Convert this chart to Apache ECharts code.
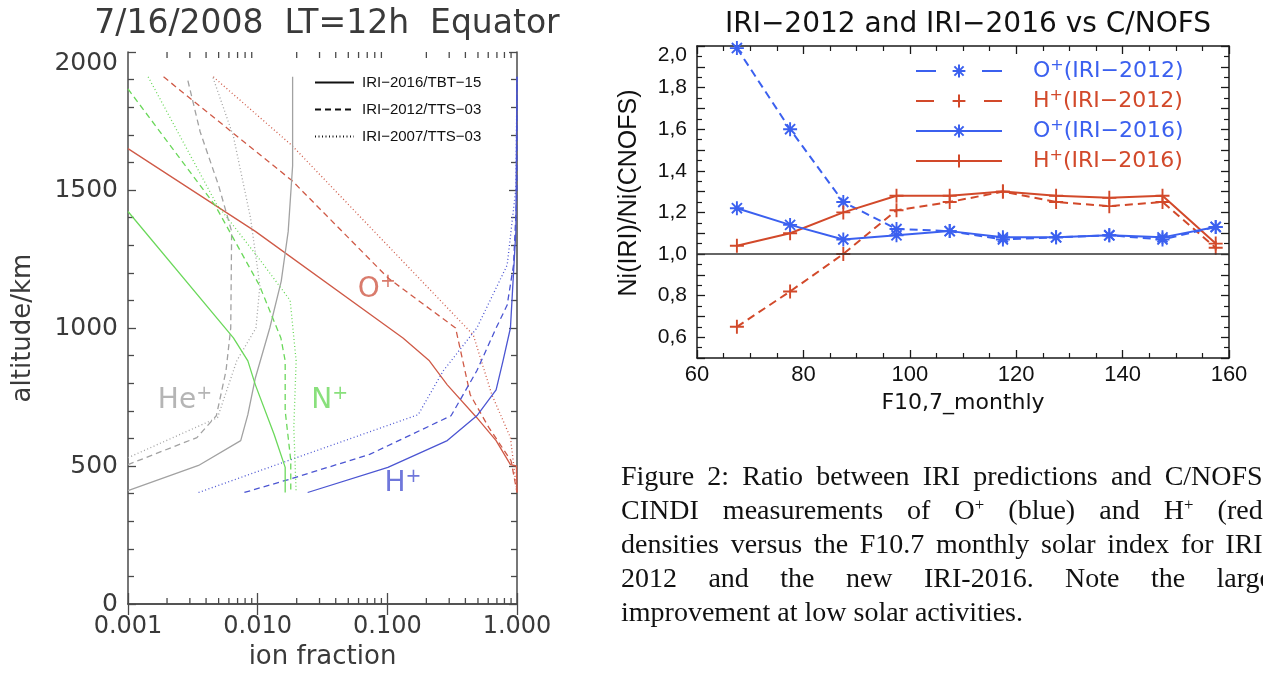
<!DOCTYPE html>
<html>
<head>
<meta charset="utf-8">
<script src="https://cdn.jsdelivr.net/npm/echarts@6/dist/echarts.min.js"></script>
<style>
  html, body { margin: 0; padding: 0; background: #fff; overflow: hidden; }
  #main { position: absolute; left: 0; top: 0; width: 1263px; height: 675px; }
  #caption { position: absolute; left: 621px; top: 459px; width: 651px;
    font-family: "Liberation Serif", "Times New Roman", serif; font-size: 28px; line-height: 34px; color: #111; }
  #caption div { text-align: justify; text-align-last: justify; white-space: normal; }
  #caption div.last { text-align-last: left; }
  #caption sup { font-size: 60%; vertical-align: 0.55em; line-height: 0; }
</style>
</head>
<body>
<div id="main"></div>
<div id="caption">
  <div>Figure 2: Ratio between IRI predictions and C/NOFS-</div>
  <div>CINDI measurements of O<sup>+</sup> (blue) and H<sup>+</sup> (red)</div>
  <div>densities versus the F10.7 monthly solar index for IRI-</div>
  <div>2012 and the new IRI-2016. Note the large</div>
  <div class="last">improvement at low solar activities.</div>
</div>
<script>
// left panel: ion fraction vs altitude (km), 7/16/2008 LT=12h equator
var oPlusTbt15 = [[0.001, 1650], [0.0096, 1350], [0.132, 964], [0.211, 881], [0.29, 794], [0.49, 675], [0.69, 592], [0.89, 505], [0.99, 500], [1.0, 404]];
var oPlusTts12 = [[0.00188, 1910], [0.0184, 1534], [0.102, 1180], [0.336, 1000], [0.436, 758], [0.607, 639], [0.9, 519], [1.0, 404]];
var oPlusTts07 = [[0.00455, 1910], [0.0184, 1661], [0.46, 975], [0.64, 758], [0.89, 603], [1.0, 404]];

var hPlusTbt15 = [[0.0243, 404], [0.101, 495], [0.29, 592], [0.49, 682], [0.69, 776], [0.78, 881], [0.89, 1000], [0.98, 1350], [1.0, 1910]];
var hPlusTts12 = [[0.0079, 404], [0.0173, 451], [0.073, 542], [0.31, 682], [0.49, 845], [0.69, 1000], [0.84, 1083], [0.94, 1228], [1.0, 1500], [1.0, 1910]];
var hPlusTts07 = [[0.0035, 404], [0.0173, 520], [0.173, 686], [0.27, 845], [0.49, 1000], [0.84, 1228], [0.98, 1505], [1.0, 1910]];

var hePlusTbt15 = [[0.001, 411], [0.0035, 502], [0.0074, 592], [0.0084, 686], [0.0096, 819], [0.0124, 1000], [0.0152, 1170], [0.0172, 1350], [0.0186, 1588], [0.0186, 1910]];
var hePlusTts12 = [[0.001, 505], [0.0034, 603], [0.0048, 682], [0.0057, 845], [0.0062, 1000], [0.0063, 1350], [0.005, 1516], [0.0036, 1711], [0.00285, 1910]];
var hePlusTts07 = [[0.001, 530], [0.0049, 675], [0.0069, 881], [0.0097, 1000], [0.0104, 1153], [0.0088, 1400], [0.0065, 1694], [0.0045, 1910]];

var nPlusTbt15 = [[0.001, 1422], [0.0065, 964], [0.0084, 881], [0.0096, 794], [0.0134, 614], [0.0163, 495], [0.0163, 404]];
var nPlusTts12 = [[0.001, 1866], [0.0047, 1444], [0.0103, 1155], [0.0151, 964], [0.0163, 881], [0.0163, 700], [0.018, 520], [0.018, 404]];
var nPlusTts07 = [[0.00143, 1910], [0.0048, 1450], [0.0103, 1250], [0.0178, 1100], [0.0198, 881], [0.019, 639], [0.0198, 404]];

var ionLabels = [['O', 0.083, 1139], ['He', 0.00275, 735], ['N', 0.036, 735], ['H', 0.132, 434]];
var modelNames = ['IRI-2016/TBT-15', 'IRI-2012/TTS-03', 'IRI-2007/TTS-03'];
var fractionMinorTicks = [0.002, 0.003, 0.004, 0.005, 0.006, 0.007, 0.008, 0.009,
  0.02, 0.03, 0.04, 0.05, 0.06, 0.07, 0.08, 0.09, 0.2, 0.3, 0.4, 0.5, 0.6, 0.7, 0.8, 0.9];

// right panel: Ni(IRI)/Ni(CNOFS) vs F10.7 monthly
var f107 = [67.5, 77.5, 87.5, 97.5, 107.5, 117.5, 127.5, 137.5, 147.5, 157.5];
var oPlus2012 = [1.99, 1.60, 1.25, 1.12, 1.11, 1.07, 1.08, 1.09, 1.07, 1.13];
var hPlus2012 = [0.65, 0.82, 1.00, 1.21, 1.25, 1.30, 1.25, 1.23, 1.25, 1.03];
var oPlus2016 = [1.22, 1.14, 1.07, 1.09, 1.11, 1.08, 1.08, 1.09, 1.08, 1.13];
var hPlus2016 = [1.04, 1.10, 1.20, 1.28, 1.28, 1.30, 1.28, 1.27, 1.28, 1.05];

var RED = '#cf5a47', BLUE = '#4b55d2', GREEN = '#6bd85b', GREY = '#a2a2a2';
var RBLUE = '#3b60ef', RRED = '#d2492a';
var LFONT = 'DejaVu Sans', RFONT = 'Liberation Sans';
var dashes = { solid: 'solid', dashed: [6, 4], dotted: [1, 2.5] };

var ASTERISK = 'path://M0,-1L0,1M-1,0L1,0M-0.72,-0.72L0.72,0.72M-0.72,0.72L0.72,-0.72';
var PLUS = 'path://M0,-1L0,1M-1,0L1,0';

function profile(data, color, dash) {
    return {
        type: 'line', xAxisIndex: 0, yAxisIndex: 0, data: data,
        symbol: 'none', silent: true,
        lineStyle: { color: color, width: 1.3, type: dashes[dash] },
        itemStyle: { color: color }
    };
}

function zip(xs, ys) {
    return xs.map(function (x, i) { return [x, ys[i]]; });
}

function ratio(name, ys, color, symbol, dash) {
    return {
        type: 'line', name: name, xAxisIndex: 2, yAxisIndex: 2,
        data: zip(f107, ys), symbol: symbol, symbolSize: 14,
        lineStyle: { color: color, width: 2, type: dash },
        itemStyle: { color: color, borderColor: color, borderWidth: 1.9 }
    };
}

function ionText(p) {
    return '{m|' + p.name + '}{s|+}';
}

function supName(name) {
    var parts = name.split('+');
    return '{sp|}{b|' + parts[0] + '}{s|+}{b|' + parts[1].replace('-', '\u2212') + '}';
}

var chart = echarts.init(document.getElementById('main'));

var leftAxisLine = { lineStyle: { color: '#4a4a4a', width: 1.5 } };
var rightAxisLine = { lineStyle: { color: '#1a1a1a', width: 1.5 } };

var series = [
    profile(oPlusTbt15, RED, 'solid'), profile(oPlusTts12, RED, 'dashed'), profile(oPlusTts07, RED, 'dotted'),
    profile(hPlusTbt15, BLUE, 'solid'), profile(hPlusTts12, BLUE, 'dashed'), profile(hPlusTts07, BLUE, 'dotted'),
    profile(hePlusTbt15, GREY, 'solid'), profile(hePlusTts12, GREY, 'dashed'), profile(hePlusTts07, GREY, 'dotted'),
    profile(nPlusTbt15, GREEN, 'solid'), profile(nPlusTts12, GREEN, 'dashed'), profile(nPlusTts07, GREEN, 'dotted')
];

// legend-only entries for the three model line styles
['solid', 'dashed', 'dotted'].forEach(function (d, i) {
    series.push({
        type: 'line', name: modelNames[i], xAxisIndex: 0, yAxisIndex: 0, data: [],
        symbol: 'none', lineStyle: { color: '#111', width: 1.4, type: dashes[d] },
        itemStyle: { color: '#111' }
    });
});

var labelColors = { O: RED, He: GREY, N: GREEN, H: BLUE };
series.push({
    type: 'scatter', xAxisIndex: 0, yAxisIndex: 0, silent: true,
    symbolSize: 0,
    data: ionLabels.map(function (l) {
        return { name: l[0], value: [l[1], l[2]], label: { color: labelColors[l[0]] } };
    }),
    label: {
        show: true, position: 'inside', formatter: ionText,
        rich: {
            m: { fontFamily: LFONT, fontSize: 28 },
            s: { fontFamily: LFONT, fontSize: 19, padding: [0, 0, 15, 0] }
        }
    }
});

series.push({
    type: 'custom', xAxisIndex: 0, yAxisIndex: 0, silent: true,
    data: fractionMinorTicks.map(function (v) { return [v, 0]; }),
    renderItem: function (params, api) {
        var v = api.value(0);
        var b = api.coord([v, 0]);
        var t = api.coord([v, 2000]);
        var st = { stroke: '#4a4a4a', lineWidth: 1.3 };
        return {
            type: 'group', children: [
                { type: 'line', shape: { x1: b[0], y1: b[1], x2: b[0], y2: b[1] - 6 }, style: st },
                { type: 'line', shape: { x1: t[0], y1: t[1], x2: t[0], y2: t[1] + 6 }, style: st }
            ]
        };
    }
});

var o2012 = ratio('O+(IRI-2012)', oPlus2012, RBLUE, ASTERISK, [8, 5]);
var h2012 = ratio('H+(IRI-2012)', hPlus2012, RRED, PLUS, [8, 5]);
var o2016 = ratio('O+(IRI-2016)', oPlus2016, RBLUE, ASTERISK, 'solid');
var h2016 = ratio('H+(IRI-2016)', hPlus2016, RRED, PLUS, 'solid');
o2016.markLine = {
    silent: true, symbol: 'none', label: { show: false },
    lineStyle: { color: '#333', width: 1.5, type: 'solid' },
    data: [{ yAxis: 1 }]
};
series.push(h2012, o2012, h2016, o2016);

var option = {
    animation: false,
    backgroundColor: '#fff',
    title: [
        {
            text: '7/16/2008  LT=12h  Equator', left: 322, top: 3, textAlign: 'center',
            textStyle: { fontFamily: LFONT, fontSize: 33, fontWeight: 'normal', color: '#3a3a3a' }
        },
        {
            text: 'IRI\u22122012 and IRI\u22122016 vs C/NOFS', left: 963, top: 6, textAlign: 'center',
            textStyle: { fontFamily: LFONT, fontSize: 28, fontWeight: 'normal', color: '#111' }
        }
    ],
    legend: [
        {
            data: modelNames, orient: 'vertical', left: 309, top: 70,
            itemWidth: 39, itemHeight: 12, itemGap: 12,
            itemStyle: { opacity: 0 },
            formatter: function (n) { return '{sp|}{t|' + n.replace(/-/g, '\u2212') + '}'; },
            textStyle: {
                color: '#111',
                rich: { sp: { width: 3 }, t: { fontFamily: RFONT, fontSize: 15, lineHeight: 16, color: '#111' } }
            }
        },
        {
            data: [
                { name: 'O+(IRI-2012)', textStyle: { color: RBLUE }, lineStyle: { type: [20, 46] } },
                { name: 'H+(IRI-2012)', textStyle: { color: RRED }, lineStyle: { type: [18, 50] } },
                { name: 'O+(IRI-2016)', textStyle: { color: RBLUE } },
                { name: 'H+(IRI-2016)', textStyle: { color: RRED } }
            ],
            orient: 'vertical', left: 910, top: 53,
            itemWidth: 86, itemHeight: 16, itemGap: 4,
            formatter: supName,
            textStyle: {
                rich: {
                    sp: { width: 26 },
                    b: { fontFamily: LFONT, fontSize: 22, lineHeight: 24 },
                    s: { fontFamily: LFONT, fontSize: 16, lineHeight: 16, padding: [0, 0, 10, 0] }
                }
            }
        }
    ],
    grid: [
        { left: 128, top: 52, width: 389, height: 555 },
        { left: 697, top: 46, width: 532, height: 312 }
    ],
    xAxis: [
        {
            type: 'log', gridIndex: 0, min: 0.001, max: 1, logBase: 10, position: 'bottom',
            name: 'ion fraction', nameLocation: 'middle', nameGap: 40,
            nameTextStyle: { fontFamily: LFONT, fontSize: 26, color: '#3a3a3a' },
            axisLine: leftAxisLine,
            axisTick: { inside: true, length: 11, lineStyle: { color: '#4a4a4a', width: 1.3 } },
            axisLabel: {
                margin: 11, fontFamily: LFONT, fontSize: 24, color: '#3a3a3a',
                formatter: function (v) { return v.toFixed(3); }
            },
            splitLine: { show: false }
        },
        {
            type: 'log', gridIndex: 0, min: 0.001, max: 1, logBase: 10, position: 'top',
            axisLine: leftAxisLine,
            axisTick: { inside: true, length: 11, lineStyle: { color: '#4a4a4a', width: 1.3 } },
            axisLabel: { show: false }, splitLine: { show: false }
        },
        {
            type: 'value', gridIndex: 1, min: 60, max: 160, interval: 20, position: 'bottom',
            name: 'F10,7_monthly', nameLocation: 'middle', nameGap: 34,
            nameTextStyle: { fontFamily: LFONT, fontSize: 22, color: '#111' },
            axisLine: rightAxisLine,
            axisTick: { inside: true, length: 8, lineStyle: { color: '#1a1a1a', width: 1.3 } },
            minorTick: { show: true, splitNumber: 4, length: 5, lineStyle: { color: '#1a1a1a', width: 1.2 } },
            axisLabel: { margin: 6, fontFamily: RFONT, fontSize: 22, color: '#111' },
            splitLine: { show: false }
        },
        {
            type: 'value', gridIndex: 1, min: 60, max: 160, interval: 20, position: 'top',
            axisLine: rightAxisLine,
            axisTick: { inside: true, length: 8, lineStyle: { color: '#1a1a1a', width: 1.3 } },
            minorTick: { show: true, splitNumber: 4, length: 5, lineStyle: { color: '#1a1a1a', width: 1.2 } },
            axisLabel: { show: false }, splitLine: { show: false }
        }
    ],
    yAxis: [
        {
            type: 'value', gridIndex: 0, min: 0, max: 2000, interval: 500, position: 'left',
            name: 'altitude/km', nameLocation: 'middle', nameGap: 92,
            nameTextStyle: { fontFamily: LFONT, fontSize: 26, color: '#3a3a3a' },
            axisLine: leftAxisLine,
            axisTick: { inside: true, length: 8, lineStyle: { color: '#4a4a4a', width: 1.3 } },
            minorTick: { show: true, splitNumber: 5, length: 6, lineStyle: { color: '#4a4a4a', width: 1.3 } },
            axisLabel: {
                margin: 10, fontFamily: LFONT, fontSize: 25, color: '#3a3a3a',
                formatter: function (v) { return v === 2000 ? '{t|2000}' : String(v); },
                rich: { t: { fontFamily: LFONT, fontSize: 25, color: '#3a3a3a', padding: [22, 0, 0, 0] } }
            },
            splitLine: { show: false }
        },
        {
            type: 'value', gridIndex: 0, min: 0, max: 2000, interval: 500, position: 'right',
            axisLine: leftAxisLine,
            axisTick: { inside: true, length: 8, lineStyle: { color: '#4a4a4a', width: 1.3 } },
            minorTick: { show: true, splitNumber: 5, length: 6, lineStyle: { color: '#4a4a4a', width: 1.3 } },
            axisLabel: { show: false }, splitLine: { show: false }
        },
        {
            type: 'value', gridIndex: 1, min: 0.5, max: 2.0, interval: 0.1, position: 'left',
            name: 'Ni(IRI)/Ni(CNOFS)', nameLocation: 'middle', nameGap: 55,
            nameTextStyle: { fontFamily: RFONT, fontSize: 25, color: '#111', padding: [0, 0, 0, 18] },
            axisLine: rightAxisLine,
            axisTick: { inside: true, length: 8, lineStyle: { color: '#1a1a1a', width: 1.3 } },
            minorTick: { show: true, splitNumber: 2, length: 5, lineStyle: { color: '#1a1a1a', width: 1.2 } },
            axisLabel: {
                margin: 10, fontFamily: RFONT, fontSize: 21, color: '#111',
                formatter: function (v) {
                    var k = Math.round(v * 10);
                    if (k % 2 !== 0) return '';
                    var s = v.toFixed(1).replace('.', ',');
                    return k === 20 ? '{t|' + s + '}' : s;
                },
                rich: { t: { fontFamily: RFONT, fontSize: 21, color: '#111', padding: [18, 0, 0, 0] } }
            },
            splitLine: { show: false }
        },
        {
            type: 'value', gridIndex: 1, min: 0.5, max: 2.0, interval: 0.1, position: 'right',
            axisLine: rightAxisLine,
            axisTick: { inside: true, length: 8, lineStyle: { color: '#1a1a1a', width: 1.3 } },
            minorTick: { show: true, splitNumber: 2, length: 5, lineStyle: { color: '#1a1a1a', width: 1.2 } },
            axisLabel: { show: false }, splitLine: { show: false }
        }
    ],
    series: series
};

chart.setOption(option);
</script>
</body>
</html>
